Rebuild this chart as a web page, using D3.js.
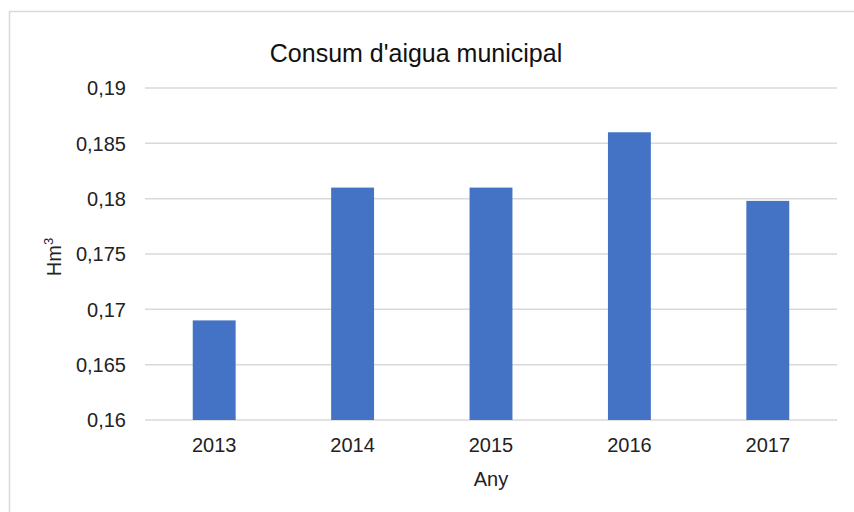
<!DOCTYPE html>
<html><head><meta charset="utf-8">
<script src="https://cdn.jsdelivr.net/npm/d3@7"></script>
<style>body{margin:0;background:#fff}svg{display:block;font-family:"Liberation Sans",Arial,sans-serif}</style>
</head><body><svg id="c" width="854" height="512"></svg>
<script>
const categories = ["2013","2014","2015","2016","2017"];
const values = [0.169, 0.181, 0.181, 0.186, 0.1798];
const yTicks = [0.16,0.165,0.17,0.175,0.18,0.185,0.19];
const title = "Consum d'aigua municipal";
const xTitle = "Any";

const svg = d3.select("#c");
const m = {l:145, r:837, t:88, b:420};
svg.append("rect").attr("x",9.5).attr("y",11.5).attr("width",900).attr("height",600)
  .attr("fill","#fff").attr("stroke","#d9d9d9").attr("stroke-width",1.5);

const x = d3.scaleBand().domain(categories).range([m.l,m.r]).paddingInner(0.69).paddingOuter(0.345);
const y = d3.scaleLinear().domain([0.16,0.19]).range([m.b,m.t]);
const fmt = v => d3.format("~g")(+v.toFixed(3)).replace(".",",");

svg.append("g").selectAll("line").data(yTicks).join("line")
  .attr("x1",m.l).attr("x2",m.r).attr("y1",d=>y(d)).attr("y2",d=>y(d))
  .attr("stroke","#d9d9d9").attr("stroke-width",1.5);

svg.append("g").selectAll("text").data(yTicks).join("text")
  .attr("x",126).attr("y",d=>y(d)).attr("dy","0.36em").attr("text-anchor","end")
  .attr("font-size",20).attr("fill","#222").text(fmt);

svg.append("g").selectAll("rect").data(values).join("rect")
  .attr("x",(d,i)=>x(categories[i])).attr("width",x.bandwidth())
  .attr("y",d=>y(d)).attr("height",d=>y(0.16)-y(d)).attr("fill","#4472c4");

svg.append("g").selectAll("text").data(categories).join("text")
  .attr("x",d=>x(d)+x.bandwidth()/2).attr("y",452).attr("text-anchor","middle")
  .attr("font-size",20).attr("fill","#222").text(d=>d);

svg.append("text").attr("x",416).attr("y",62).attr("text-anchor","middle")
  .attr("font-size",25).attr("fill","#111").text(title);
svg.append("text").attr("x",491).attr("y",486).attr("text-anchor","middle")
  .attr("font-size",20).attr("fill","#222").text(xTitle);
const yt = svg.append("text").attr("transform","translate(61,257) rotate(-90)").attr("text-anchor","middle")
  .attr("font-size",20).attr("fill","#222");
yt.append("tspan").text("Hm");
yt.append("tspan").attr("font-size",13).attr("dy","-8").text("3");
</script></body></html>
